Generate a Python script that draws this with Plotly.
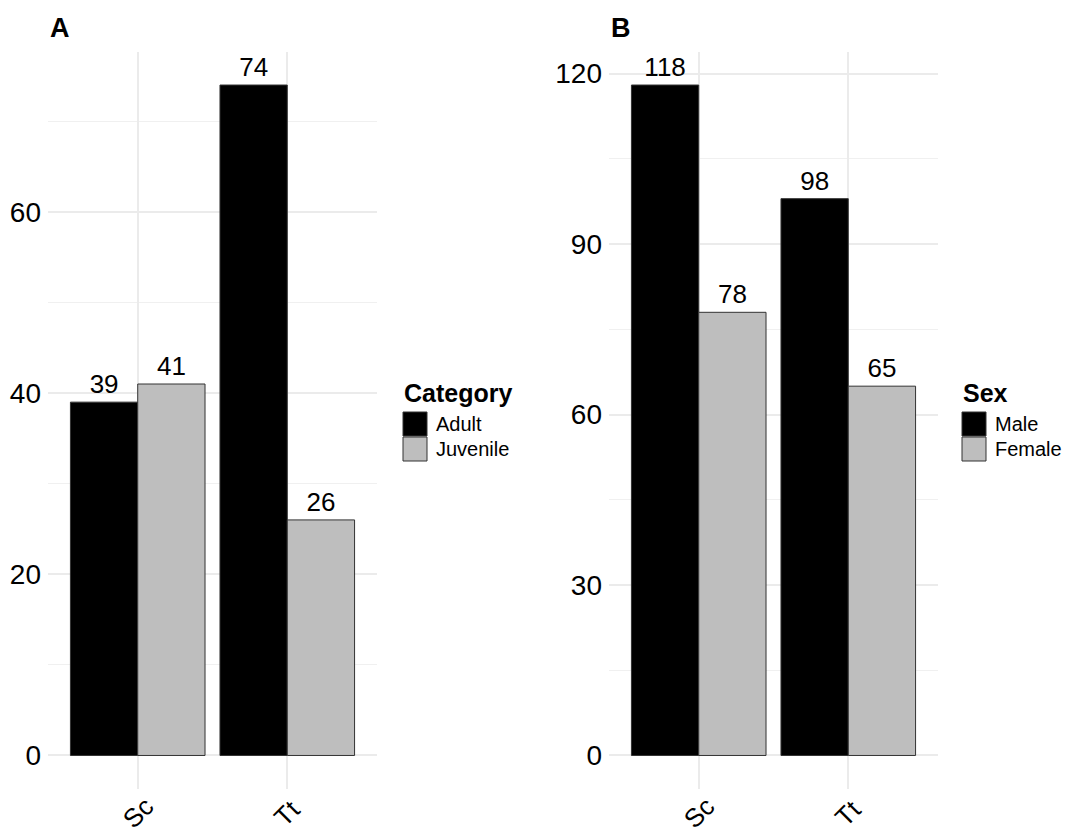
import plotly.graph_objects as go

# ---- data -------------------------------------------------------------
species = ["Sc", "Tt"]

age_groups = ["Adult", "Juvenile"]
age_counts = {
    "Adult": [39, 74],
    "Juvenile": [41, 26],
}

sexes = ["Male", "Female"]
sex_counts = {
    "Male": [118, 98],
    "Female": [78, 65],
}

fill_colors = ["#000000", "#bebebe"]

# ---- layout constants --------------------------------------------------
W, H = 1065, 834
FONT = "Liberation Sans, Arial, sans-serif"


def px_x(p):
    return p / W


def px_y(p):
    return 1 - p / H


fig = go.Figure()


def add_bars(names, counts, xaxis, yaxis):
    for name, color in zip(names, fill_colors):
        fig.add_trace(
            go.Bar(
                x=species,
                y=counts[name],
                name=name,
                offsetgroup=name,
                marker=dict(color=color, line=dict(color="#333333", width=1)),
                text=counts[name],
                texttemplate="%{y}",
                textposition="outside",
                textfont=dict(family=FONT, size=26, color="#000000"),
                constraintext="none",
                cliponaxis=False,
                showlegend=False,
                xaxis=xaxis,
                yaxis=yaxis,
            )
        )


add_bars(age_groups, age_counts, "x", "y")
add_bars(sexes, sex_counts, "x2", "y2")

grid_major = "#ebebeb"
grid_minor = "#f0f0f0"

xaxis_common = dict(
    type="category",
    categoryarray=species,
    range=[-0.6, 1.6],
    automargin=False,
    showgrid=True,
    gridcolor=grid_major,
    gridwidth=1.5,
    zeroline=False,
    showline=False,
    ticks="",
    showticklabels=False,
)

yaxis_common = dict(
    automargin=False,
    showgrid=True,
    gridcolor=grid_major,
    gridwidth=1.5,
    zeroline=False,
    showline=False,
    ticks="",
    tick0=0,
    tickfont=dict(family=FONT, size=28, color="#000000"),
    ticklabelstandoff=6,
)

y_dom = [px_y(789), px_y(51.5)]

fig.update_layout(
    width=W,
    height=H,
    margin=dict(l=0, r=0, t=0, b=0, autoexpand=False),
    paper_bgcolor="white",
    plot_bgcolor="white",
    barmode="group",
    bargap=0.1,
    bargroupgap=0,
    showlegend=False,
    xaxis=dict(domain=[px_x(48), px_x(377)], anchor="y", **xaxis_common),
    xaxis2=dict(domain=[px_x(609), px_x(938)], anchor="y2", **xaxis_common),
    yaxis=dict(
        domain=y_dom,
        anchor="x",
        range=[-3.7, 77.7],
        dtick=20,
        minor=dict(dtick=10, tick0=0, showgrid=True, gridcolor=grid_minor, gridwidth=1),
        **yaxis_common,
    ),
    yaxis2=dict(
        domain=y_dom,
        anchor="x2",
        range=[-5.9, 123.9],
        dtick=30,
        minor=dict(dtick=15, tick0=0, showgrid=True, gridcolor=grid_minor, gridwidth=1),
        **yaxis_common,
    ),
)

# ---- rotated category labels under each panel --------------------------
for xref in ["x", "x2"]:
    for sp in species:
        fig.add_annotation(
            text=sp,
            xref=xref, yref="paper",
            x=sp, y=px_y(813),
            xanchor="center", yanchor="middle",
            textangle=-45,
            showarrow=False,
            font=dict(family=FONT, size=26, color="#000000"),
        )

# ---- panel tags --------------------------------------------------------
for tag, xpx in [("A", 48), ("B", 609)]:
    fig.add_annotation(
        text=f"<b>{tag}</b>",
        xref="paper", yref="paper",
        x=px_x(xpx), y=px_y(28),
        xanchor="left", yanchor="middle",
        showarrow=False,
        font=dict(family=FONT, size=27, color="#000000"),
    )

# ---- legends (drawn as keys + labels beside each panel) ---------------
def add_legend(title, names, left_px):
    fig.add_annotation(
        text=f"<b>{title}</b>",
        xref="paper", yref="paper",
        x=px_x(left_px - 1), y=px_y(393),
        xanchor="left", yanchor="middle",
        showarrow=False,
        font=dict(family=FONT, size=25, color="#000000"),
    )
    top = 412
    key = 24
    for i, (name, color) in enumerate(zip(names, fill_colors)):
        y0 = top + i * (key + 1)
        fig.add_shape(
            type="rect",
            xref="paper", yref="paper",
            x0=px_x(left_px), x1=px_x(left_px + key),
            y0=px_y(y0 + key), y1=px_y(y0),
            fillcolor=color,
            line=dict(color="#333333", width=1),
        )
        fig.add_annotation(
            text=name,
            xref="paper", yref="paper",
            x=px_x(left_px + key + 7), y=px_y(y0 + key / 2),
            xanchor="left", yanchor="middle",
            showarrow=False,
            font=dict(family=FONT, size=20, color="#000000"),
        )


add_legend("Category", age_groups, 403)
add_legend("Sex", sexes, 962)

fig.write_html("out.html")
